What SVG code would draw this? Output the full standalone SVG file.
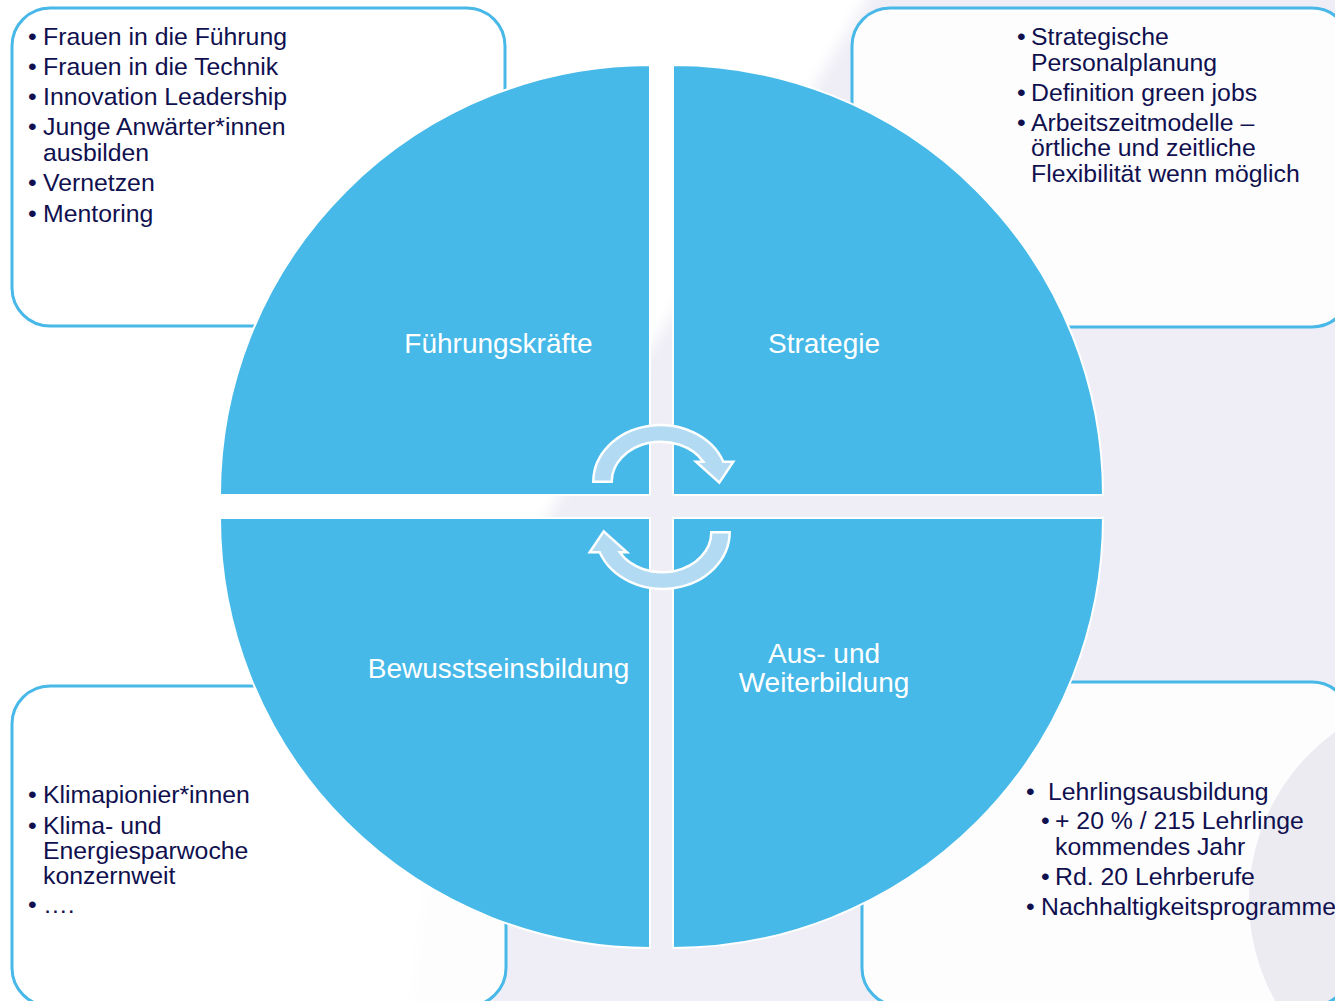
<svg xmlns="http://www.w3.org/2000/svg" width="1335" height="1001" viewBox="0 0 1335 1001">
<style>
.box{fill:#FFFFFF;fill-opacity:0.85;stroke:#48B8E8;stroke-width:3}
.quad{fill:#46B9E8;stroke:#FFFFFF;stroke-width:2}
.qt{font-family:"Liberation Sans",Arial,sans-serif;font-size:28px;fill:#FFFFFF;text-anchor:middle}
.bt{font-family:"Liberation Sans",Arial,sans-serif;font-size:24.8px;fill:#10104F}
.arrow{fill:#B2DAF2;stroke:#FFFFFF;stroke-width:2.5;stroke-linejoin:miter}
</style>
<defs>
<filter id="soft" x="-10%" y="-10%" width="120%" height="120%">
<feGaussianBlur stdDeviation="7"/>
</filter>
</defs>
<g id="background">
<rect x="0" y="0" width="1335" height="1001" fill="#FFFFFF"/>
<path d="M 890 -40 L 1400 -40 L 1400 1060 L 408 1060 C 418 850 470 650 557 500 C 620 390 700 280 890 -40 Z" fill="#EFEEF6" filter="url(#soft)"/>
</g>
<g id="box-tl">
<rect class="box" x="12" y="8" width="493" height="318" rx="38"/>
<text class="bt" x="28" y="45">•</text><text class="bt" x="43" y="45">Frauen in die Führung</text>
<text class="bt" x="28" y="75">•</text><text class="bt" x="43" y="75">Frauen in die Technik</text>
<text class="bt" x="28" y="105">•</text><text class="bt" x="43" y="105">Innovation Leadership</text>
<text class="bt" x="28" y="135">•</text><text class="bt" x="43" y="135">Junge Anwärter*innen</text>
<text class="bt" x="43" y="161">ausbilden</text>
<text class="bt" x="28" y="191">•</text><text class="bt" x="43" y="191">Vernetzen</text>
<text class="bt" x="28" y="222">•</text><text class="bt" x="43" y="222">Mentoring</text>
</g>
<g id="box-tr">
<rect class="box" x="852" y="8" width="498" height="319" rx="38"/>
<text class="bt" x="1017" y="45">•</text><text class="bt" x="1031" y="45">Strategische</text>
<text class="bt" x="1031" y="71">Personalplanung</text>
<text class="bt" x="1017" y="101">•</text><text class="bt" x="1031" y="101">Definition green jobs</text>
<text class="bt" x="1017" y="131">•</text><text class="bt" x="1031" y="131">Arbeitszeitmodelle –</text>
<text class="bt" x="1031" y="156">örtliche und zeitliche</text>
<text class="bt" x="1031" y="182">Flexibilität wenn möglich</text>
</g>
<g id="box-bl">
<rect class="box" x="12" y="686" width="494" height="320" rx="38"/>
<text class="bt" x="28" y="803">•</text><text class="bt" x="43" y="803">Klimapionier*innen</text>
<text class="bt" x="28" y="834">•</text><text class="bt" x="43" y="834">Klima- und</text>
<text class="bt" x="43" y="859">Energiesparwoche</text>
<text class="bt" x="43" y="884">konzernweit</text>
<text class="bt" x="28" y="913">•</text><text class="bt" x="43" y="913">….</text>
</g>
<g id="box-br">
<rect x="862" y="682" width="488" height="324" rx="38" fill="#FFFFFF" fill-opacity="0.85"/>
<circle cx="1456" cy="900" r="207" fill="#ECEBF2"/>
<rect x="862" y="682" width="488" height="324" rx="38" fill="none" stroke="#48B8E8" stroke-width="3"/>
<text class="bt" x="1026" y="800">•</text><text class="bt" x="1048" y="800">Lehrlingsausbildung</text>
<text class="bt" x="1041" y="829">•</text><text class="bt" x="1055" y="829">+ 20 % / 215 Lehrlinge</text>
<text class="bt" x="1055" y="855">kommendes Jahr</text>
<text class="bt" x="1041" y="885">•</text><text class="bt" x="1055" y="885">Rd. 20 Lehrberufe</text>
<text class="bt" x="1026" y="915">•</text><text class="bt" x="1041" y="915">Nachhaltigkeitsprogramme</text>
</g>
<g id="quad-fuehrungskraefte">
<path class="quad" d="M 650 495 L 220 495 A 430 430 0 0 1 650 65 Z"/>
<text class="qt" x="498.5" y="353">Führungskräfte</text>
</g>
<g id="quad-strategie">
<path class="quad" d="M 673 495 L 673 65 A 430 430 0 0 1 1103 495 Z"/>
<text class="qt" x="824" y="353">Strategie</text>
</g>
<g id="quad-bewusstseinsbildung">
<path class="quad" d="M 650 518 L 650 948 A 430 430 0 0 1 220 518 Z"/>
<text class="qt" x="498.5" y="678">Bewusstseinsbildung</text>
</g>
<g id="quad-ausbildung">
<path class="quad" d="M 673 518 L 1103 518 A 430 430 0 0 1 673 948 Z"/>
<text class="qt" x="824" y="663">Aus- und</text>
<text class="qt" x="824" y="692">Weiterbildung</text>
</g>
<g id="connectors">
<path id="arrow-top" class="arrow" d="M 593.3 481.7 A 67.2 56.7 0 0 1 723.3 461.7 L 733.3 461.7 L 719.3 482.7 L 696 461.7 L 703.3 461.7 A 49.1 40 0 0 0 611.7 481.7 Z"/>
<path id="arrow-bottom" class="arrow" transform="rotate(180 661.5 507)" d="M 593.3 481.7 A 67.2 56.7 0 0 1 723.3 461.7 L 733.3 461.7 L 719.3 482.7 L 696 461.7 L 703.3 461.7 A 49.1 40 0 0 0 611.7 481.7 Z"/>
</g>
</svg>
